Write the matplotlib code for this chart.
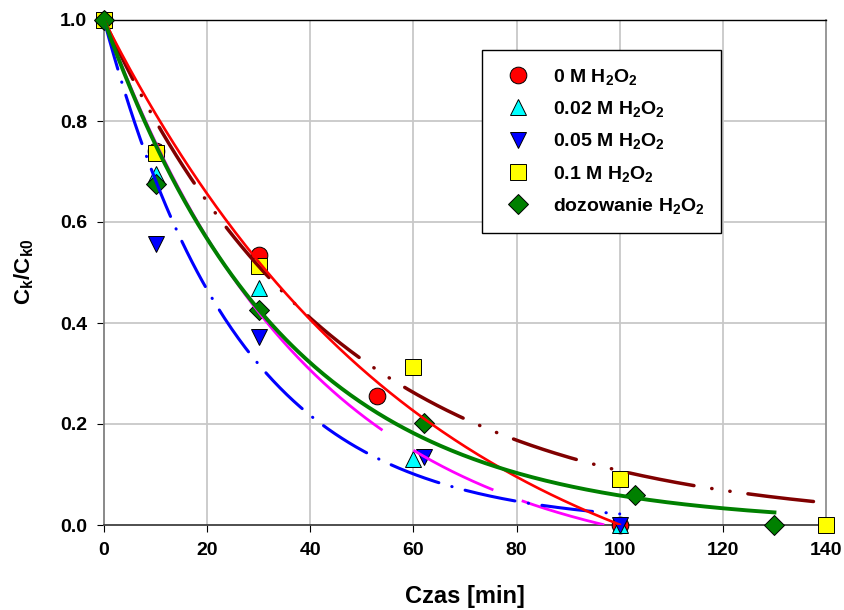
import numpy as np
import matplotlib
matplotlib.use("Agg")
import matplotlib.pyplot as plt
from matplotlib.lines import Line2D

plt.rcParams['font.family'] = ['Liberation Sans', 'DejaVu Sans']
plt.rcParams['font.weight'] = 'bold'
plt.rcParams['mathtext.fontset'] = 'custom'
plt.rcParams['mathtext.rm'] = 'Liberation Sans:bold'
plt.rcParams['mathtext.bf'] = 'Liberation Sans:bold'
plt.rcParams['mathtext.it'] = 'Liberation Sans:bold'
plt.rcParams['mathtext.sf'] = 'Liberation Sans:bold'
plt.rcParams['lines.scale_dashes'] = False

# ---- measured concentrations C/C0 versus time [min] ----
t_0M = [0, 10, 30, 53, 100]
c_0M = [1.0, 0.74, 0.535, 0.255, 0.0]

t_002M = [0, 10, 30, 60, 100]
c_002M = [1.0, 0.695, 0.47, 0.131, 0.0]

t_005M = [0, 10, 30, 62, 100]
c_005M = [1.0, 0.556, 0.373, 0.135, 0.0]

t_01M = [0, 10, 30, 60, 100, 140]
c_01M = [1.0, 0.737, 0.513, 0.313, 0.092, 0.0]

t_doz = [0, 10, 30, 62, 103, 130]
c_doz = [1.0, 0.675, 0.425, 0.202, 0.06, 0.0]

labels = ['0 M H$_2$O$_2$', '0.02 M H$_2$O$_2$', '0.05 M H$_2$O$_2$',
          '0.1 M H$_2$O$_2$', 'dozowanie H$_2$O$_2$']

# ---- fitted first-order decay curves: C/C0 = a*exp(-k*t) + c ----
fit_0M = (1.2477, 0.01614, -0.2477)
fit_002M = (1.0967, 0.0250, -0.0967)
fit_005M = (1.0, 0.0382, 0.0)
fit_01M = (1.0, 0.0223, 0.0)
fit_doz = (1.0, 0.0284, 0.0)

# time spans covered by each fitted curve
span_0M = [(0, 100)]
span_002M = [(0, 54), (60, 75.5), (81, 97)]
span_005M = [(0, 100)]
span_01M = [(0, 140)]
span_doz = [(0, 130)]

xticks = [0, 20, 40, 60, 80, 100, 120, 140]
yticks = [0.0, 0.2, 0.4, 0.6, 0.8, 1.0]


def decay(t, p):
    a, k, c = p
    return a * np.exp(-k * t) + c


PX = 72.0 / 100.0  # points per pixel at 100 dpi

fig = plt.figure(figsize=(8.44, 6.10), dpi=100)
ax = fig.add_axes([104 / 844, 1 - 525 / 610, 722 / 844, 505 / 610])
ax.set_xlim(0, 140)
ax.set_ylim(0, 1.0)

# grid
for x in xticks[1:-1]:
    ax.axvline(x, color='#c8c8c8', lw=1.3, zorder=0)
for y in yticks[1:-1]:
    ax.axhline(y, color='#c8c8c8', lw=1.3, zorder=0)

# data markers
mk = dict(ls='none', mec='black', mew=0.7, clip_on=False, zorder=3)
ax.plot(t_0M, c_0M, marker='o', ms=12, mfc='#ff0000', **mk)
ax.plot(t_002M, c_002M, marker='^', ms=12, mfc='#00ffff', **mk)
ax.plot(t_005M, c_005M, marker='v', ms=12, mfc='#0000ff', **mk)
ax.plot(t_01M, c_01M, marker='s', ms=11, mfc='#ffff00', **mk)
ax.plot(t_doz, c_doz, marker='D', ms=10, mfc='#008000', **mk)


def draw_fit(spans, p, **kw):
    for t0, t1 in spans:
        tt = np.linspace(t0, t1, 300)
        ax.plot(tt, decay(tt, p), **kw)


draw_fit(span_002M, fit_002M, color='#ff00ff', lw=2.0, zorder=4,
         solid_capstyle='butt')
draw_fit(span_005M, fit_005M, color='#0000ff', lw=2.2, zorder=4,
         dash_capstyle='round',
         dashes=(51 * PX, 13.5 * PX, 0.3 * PX, 13.5 * PX))
draw_fit(span_01M, fit_01M, color='#800000', lw=2.5, zorder=4,
         dash_capstyle='round',
         dashes=(66 * PX, 18 * PX, 0.3 * PX, 18 * PX, 0.3 * PX, 18 * PX))
draw_fit(span_0M, fit_0M, color='#ff0000', lw=1.9, zorder=5)
draw_fit(span_doz, fit_doz, color='#008000', lw=2.8, zorder=6)

# axes frame
ax.spines['left'].set_color('#808080')
ax.spines['left'].set_linewidth(1.3)
ax.spines['right'].set_color('#909090')
ax.spines['right'].set_linewidth(1.3)
ax.spines['top'].set_color('black')
ax.spines['top'].set_linewidth(1.0)
ax.spines['bottom'].set_color('#404040')
ax.spines['bottom'].set_linewidth(1.3)
for s in ax.spines.values():
    s.set_zorder(2)

ax.set_xticks(xticks)
ax.set_yticks(yticks)
ax.set_xticklabels([str(v) for v in xticks])
ax.set_yticklabels(['%.1f' % v for v in yticks])
ax.tick_params(direction='out', length=5, width=0.8, color='black',
               labelsize=14, pad=7, top=False, right=False)

# legend
handles = [
    Line2D([], [], ls='none', marker='o', ms=12, mfc='#ff0000', mec='black', mew=0.7),
    Line2D([], [], ls='none', marker='^', ms=12, mfc='#00ffff', mec='black', mew=0.7),
    Line2D([], [], ls='none', marker='v', ms=12, mfc='#0000ff', mec='black', mew=0.7),
    Line2D([], [], ls='none', marker='s', ms=11, mfc='#ffff00', mec='black', mew=0.7),
    Line2D([], [], ls='none', marker='D', ms=10, mfc='#008000', mec='black', mew=0.7),
]
leg = ax.legend(handles, labels, loc='upper left',
                bbox_to_anchor=(0.5235, 0.9406), borderaxespad=0,
                frameon=True, fancybox=False, framealpha=1, edgecolor='black',
                fontsize=14, borderpad=0.85, labelspacing=0.64,
                handlelength=2.0, handletextpad=0.8)
leg.get_frame().set_linewidth(1.0)
leg.set_zorder(10)

fig.text(465 / 844, 1 - 596 / 610, 'Czas [min]', ha='center', va='center',
         fontsize=17, fontweight='bold')
fig.text(24 / 844, 1 - 272 / 610, 'C$_k$/C$_{k0}$', ha='center', va='center',
         rotation=90, fontsize=16, fontweight='bold')

fig.savefig('out.png', dpi=100)
